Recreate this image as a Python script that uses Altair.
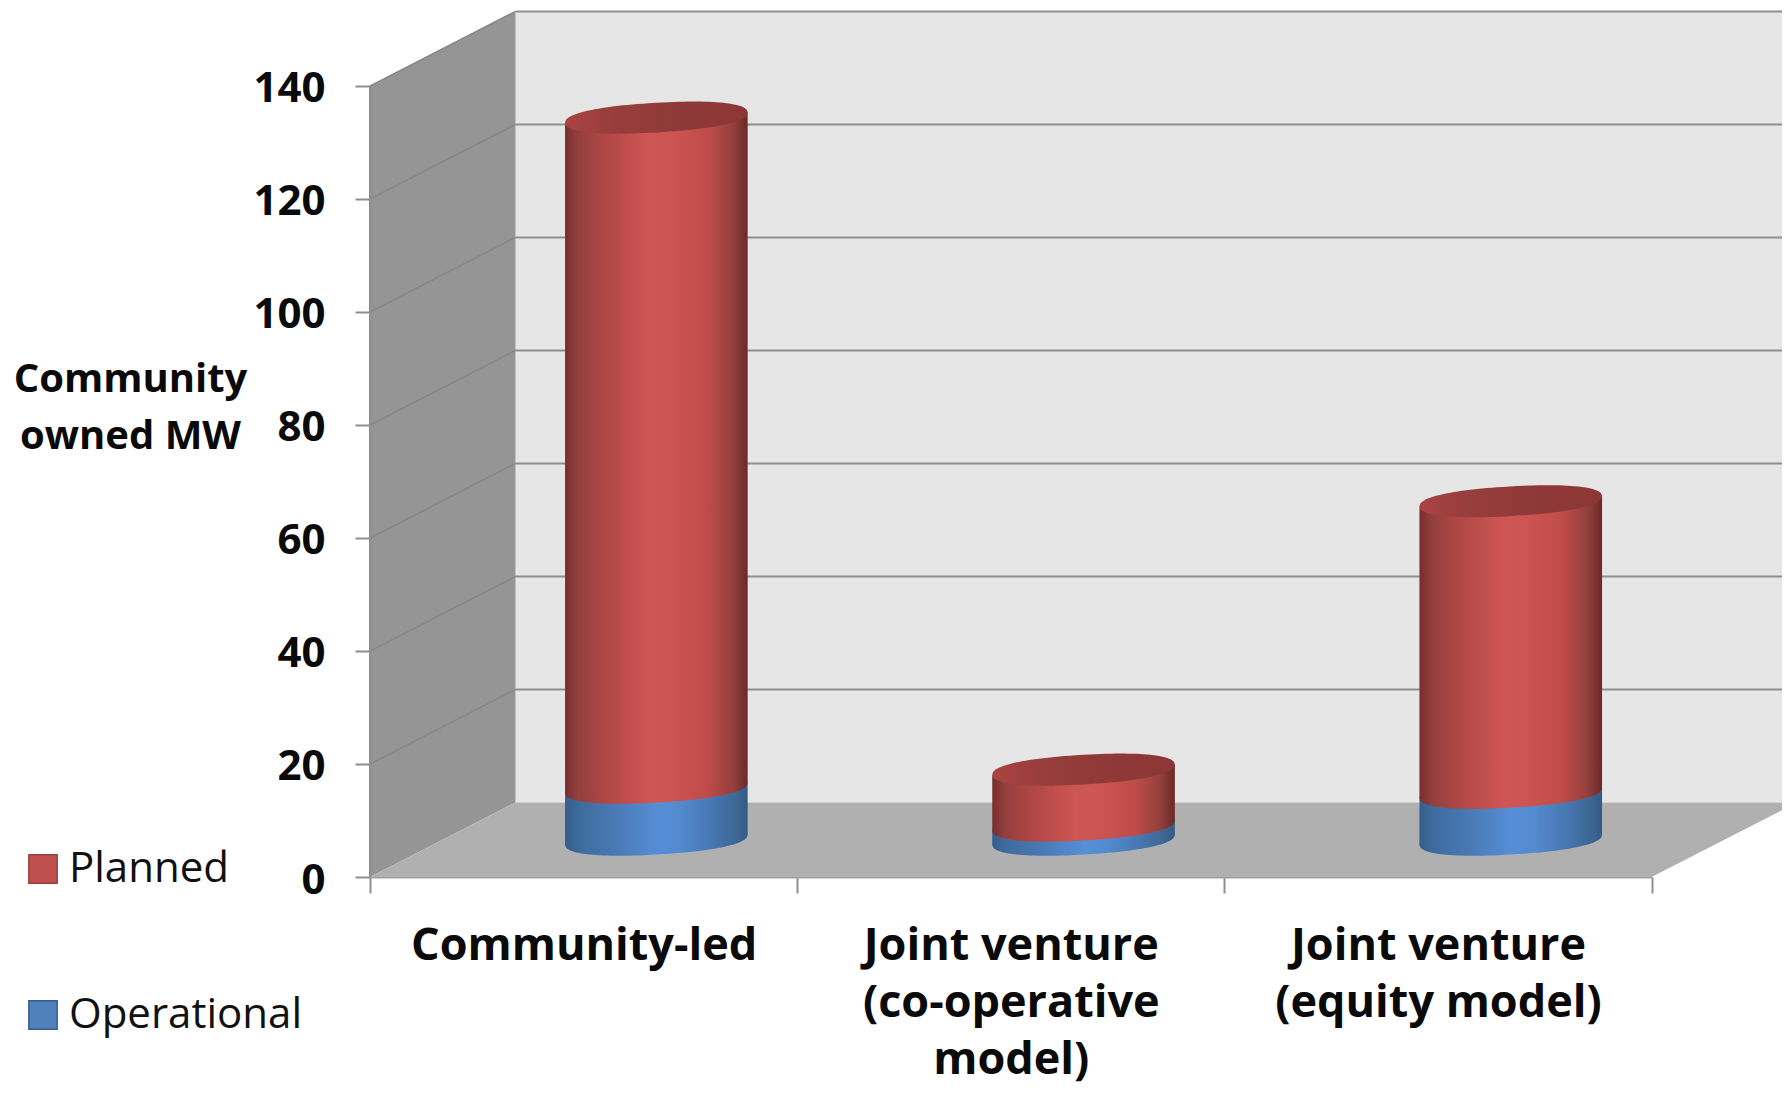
import math
import altair as alt
import pandas as pd

# ---- values ----
categories = ["Community-led", "Joint venture|(co-operative|model)", "Joint venture|(equity model)"]
operational = [9.2, 2.5, 8.3]
planned = [118.6, 9.9, 51.6]
y_ticks = [0, 20, 40, 60, 80, 100, 120, 140]
series = ["Planned", "Operational"]

# ---- 3-D construction ----
DEPTH_X = 0.3406      # category units
DEPTH_Y = 13.2        # MW
W, H = 1412, 869
PX_X = 427.2
X_MAX = W / PX_X
Y_MAX = 153.8
PX_Y = H / Y_MAX
BASE = DEPTH_Y / 2
HALF = 91.3 / PX_X
TILT_DEG = 3.3
TILT = 91.3 * math.sin(math.radians(TILT_DEG)) / PX_Y
ELL_SIZE = (2 * 91.3) ** 2
FONT = "Open Sans"

def ellipse_path(ratio=14.8 / 91.3, deg=TILT_DEG, n=2.3):
    th = math.radians(deg)
    pts = []
    for k in range(120):
        t = 2 * math.pi * k / 120
        c, s = math.cos(t), math.sin(t)
        a = math.copysign(abs(c) ** (2 / n), c)
        b = ratio * math.copysign(abs(s) ** (2 / n), s)
        pts.append((a * math.cos(th) + b * math.sin(th), -a * math.sin(th) + b * math.cos(th)))
    return "M" + " L".join(f"{p[0]:.4f},{p[1]:.4f}" for p in pts) + " Z"

ELLIPSE = ellipse_path()

def grad(stops):
    return alt.Gradient(gradient="linear", x1=0, x2=1, y1=0, y2=0,
                        stops=[alt.GradientStop(offset=o, color=c) for o, c in stops])

RED = grad([(0, "#762e2d"), (0.07, "#93403e"), (0.2, "#ad4644"), (0.45, "#ce5654"),
            (0.58, "#cd5553"), (0.78, "#bf4c49"), (0.92, "#93403d"), (1, "#6c2927")])
BLUE = grad([(0, "#345d8c"), (0.08, "#3f6c9f"), (0.25, "#4878b2"), (0.5, "#558ed5"),
             (0.62, "#548bd0"), (0.8, "#4778b3"), (0.93, "#3e6896"), (1, "#335a85")])
TOP = grad([(0, "#aa4442"), (0.25, "#983e3c"), (0.6, "#8f3a38"), (1, "#8c3735")])

xs = alt.Scale(domain=[0, X_MAX], nice=False, zero=False)
ys = alt.Scale(domain=[0, Y_MAX], nice=False, zero=False)
X = alt.X("x:Q", scale=xs, axis=None)
Y = alt.Y("y:Q", scale=ys, axis=None)
Y2 = alt.Y2("y2:Q")

def band(rows, color, clip=True):
    return alt.Chart(pd.DataFrame(rows, columns=["x", "y", "y2"])).mark_area(
        fill=color, orient="vertical", opacity=1, clip=clip).encode(x=X, y=Y, y2=Y2)

back_wall = band([(DEPTH_X, DEPTH_Y, 140 + DEPTH_Y), (X_MAX, DEPTH_Y, 140 + DEPTH_Y)], "#e6e6e6")
side_wall = band([(0, 0, 140), (DEPTH_X, DEPTH_Y, 140 + DEPTH_Y)], "#959595")
floor_part = band([(0, 0, 0), (DEPTH_X, 0, DEPTH_Y), (3, 0, DEPTH_Y), (X_MAX, (X_MAX - 3) / DEPTH_X * DEPTH_Y, DEPTH_Y)],
                  "#b0b0b0")

back_rows, side_rows = [], []
for v in y_ticks:
    if v:
        back_rows += [(v, DEPTH_X, v + DEPTH_Y), (v, X_MAX, v + DEPTH_Y)]
        side_rows += [(v, 0, v), (v, DEPTH_X, v + DEPTH_Y)]
back_lines = alt.Chart(pd.DataFrame(back_rows, columns=["id", "x", "y"])).mark_line(
    color="#8e8e8e", strokeWidth=2, clip=True).encode(x=X, y=Y, detail="id:N")
side_lines = alt.Chart(pd.DataFrame(side_rows, columns=["id", "x", "y"])).mark_line(
    color="#868686", strokeWidth=1.5, clip=True).encode(x=X, y=Y, detail="id:N")
axis_line = alt.Chart(pd.DataFrame({"x": [0, 0], "y": [0, 140]})).mark_line(
    color="#8e8e8e", strokeWidth=2).encode(x=X, y=Y)

# ---- cylinders ----
blue_rows, red_rows, base_pts, mid_pts, top_pts = [], [], [], [], []
for i, (o, p) in enumerate(zip(operational, planned)):
    c = i + 0.5 + DEPTH_X / 2
    b, m, t = BASE, BASE + o, BASE + o + p
    for sign in (-1, 1):
        blue_rows.append((i, c + sign * HALF, b + sign * TILT, m + sign * TILT))
        red_rows.append((i, c + sign * HALF, m + sign * TILT, t + sign * TILT))
    base_pts.append((c, b))
    mid_pts.append((c, m))
    top_pts.append((c, t))

def body(rows, fill):
    return alt.Chart(pd.DataFrame(rows, columns=["id", "x", "y", "y2"])).mark_area(
        fill=fill, orient="vertical", opacity=1).encode(x=X, y=Y, y2=Y2, detail="id:N")

def caps(pts, fill):
    return alt.Chart(pd.DataFrame(pts, columns=["x", "y"])).mark_point(
        shape=ELLIPSE, size=ELL_SIZE, filled=True, fill=fill, opacity=1, strokeWidth=0).encode(x=X, y=Y)

# ---- category axis + y axis + legend ----
legend_df = pd.DataFrame({
    "cat": categories + categories,
    "series": ["Planned"] * 3 + ["Operational"] * 3,
    "y": [0] * 6,
})
leg = alt.Legend(title=None, orient="none", legendX=-348, legendY=840, symbolType="square",
                 symbolSize=800, symbolStrokeWidth=1.5, labelFont=FONT, labelFontSize=42,
                 labelColor="#111111", labelOffset=5, rowPadding=104, labelLimit=400, symbolOpacity=1)
axes_layer = alt.Chart(legend_df).mark_point(size=0, filled=True, opacity=1, strokeWidth=0).encode(
    x=alt.X("cat:N", sort=None, title=None,
            scale=alt.Scale(type="band", domain=categories, range=[0, 3 * PX_X], paddingInner=0, paddingOuter=0),
            axis=alt.Axis(tickBand="extent", tickSize=16, tickWidth=2, tickColor="#8e8e8e",
                          domainColor="#a0a0a0", domainWidth=2, labelAngle=0, labelFont=FONT,
                          labelFontSize=45, labelFontWeight="bold", labelColor="#0a0a0a",
                          labelPadding=30, labelLineHeight=57, labelBaseline="top", labelOverlap=False,
                          labelLimit=600, labelExpr="split(datum.label, '|')", grid=False)),
    y=alt.Y("y:Q", scale=ys, title=["Community", "owned MW"],
            axis=alt.Axis(values=y_ticks, domain=False, grid=False, tickSize=15, tickWidth=2,
                          tickColor="#8e8e8e", labelFont=FONT, labelFontSize=42, labelFontWeight="bold",
                          labelColor="#0a0a0a", labelPadding=30, labelOffset=3, format="d", labelOverlap=False,
                          titleAngle=0, titleFont=FONT, titleFontSize=40, titleFontWeight="bold",
                          titleColor="#0a0a0a", titleX=-240, titleY=383, titleAlign="center",
                          titleBaseline="alphabetic", titleLineHeight=57)),
    fill=alt.Fill("series:N", scale=alt.Scale(domain=series, range=["#c0504d", "#4f81bd"]), legend=leg),
    stroke=alt.Stroke("series:N", scale=alt.Scale(domain=series, range=["#98403d", "#385d8a"]), legend=leg),
)

chart = alt.layer(
    back_wall, side_wall, floor_part, back_lines, side_lines, axis_line,
    caps(base_pts, BLUE), body(blue_rows, BLUE),
    caps(mid_pts, RED), body(red_rows, RED), caps(top_pts, TOP),
    axes_layer,
).resolve_scale(x="independent").resolve_axis(y="independent").properties(
    width=W, height=H,
    autosize=alt.AutoSizeParams(type="none"),
    padding={"left": 362, "top": 0, "right": 0, "bottom": 210},
    background="white",
).configure_view(stroke=None)

chart.save("out.html", embed_options={"renderer": "svg", "actions": False})
